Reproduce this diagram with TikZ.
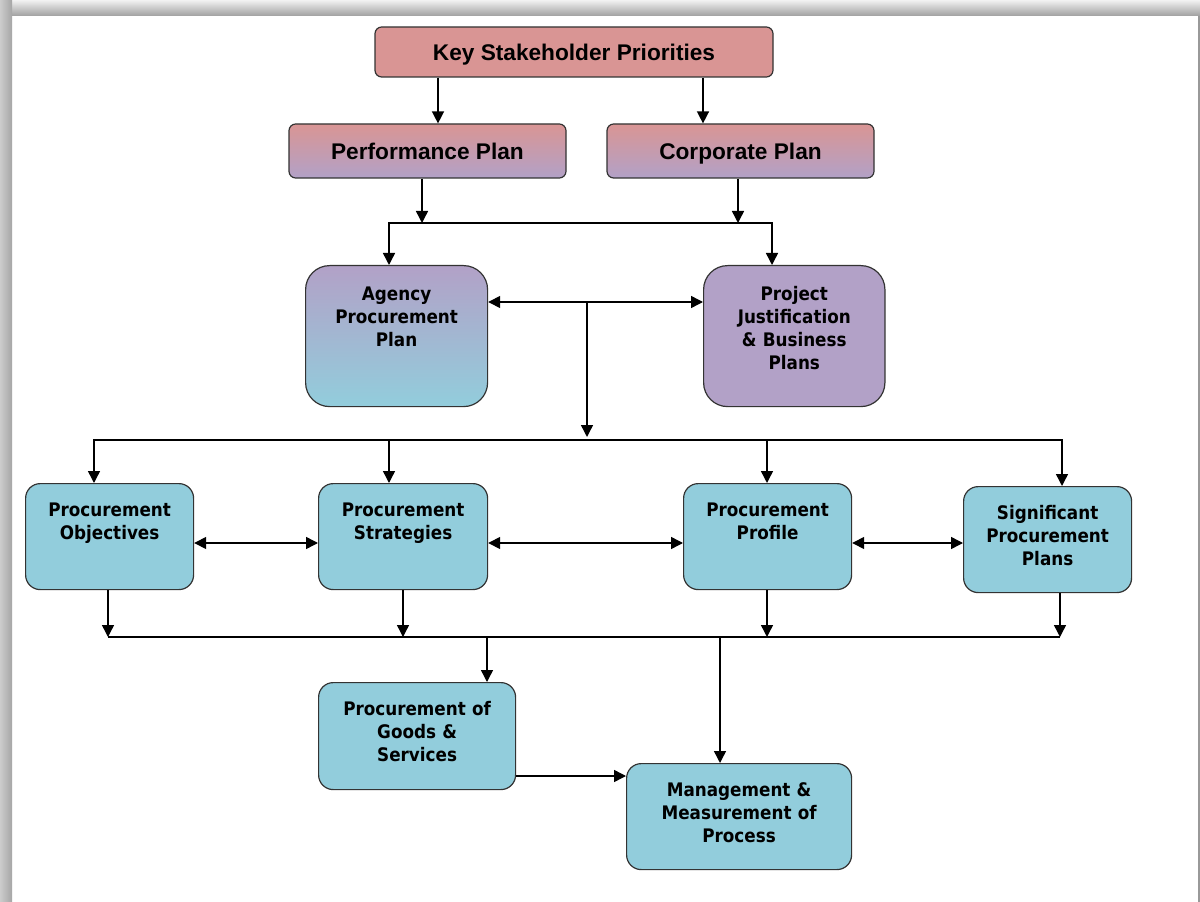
\documentclass[tikz,border=0pt]{standalone}
\usepackage{fontspec}
\setmainfont{DejaVu Sans}[FakeStretch=0.9]
\newfontfamily\titlefont{Liberation Sans}
\usetikzlibrary{arrows.meta}
\definecolor{keypink}{HTML}{D99594}
\definecolor{planlilac}{HTML}{B2A1C7}
\definecolor{procblue}{HTML}{92CDDC}

\begin{document}
\begin{tikzpicture}[x=0.75pt,y=-0.75pt]
        \tikzset{
        top node/.style={draw=black!80,line width=0.9pt,rounded corners=5pt,inner sep=0,
            text height=12.2pt,text depth=0pt,
            font=\titlefont\fontsize{17}{20}\selectfont\bfseries},
        plan node/.style={draw=black!80,line width=0.9pt,rounded corners=18pt,inner sep=0,
            align=center,text height=26.5pt,text depth=79.25pt,anchor=north west,
            font=\fontsize{14}{17.25}\selectfont\bfseries},
        proc node/.style={draw=black!80,line width=0.9pt,rounded corners=11pt,fill=procblue,
            inner sep=0,align=center,text height=25pt,anchor=north west,
            font=\fontsize{14}{17.25}\selectfont\bfseries},
        link/.style={line width=1.1pt,-{Triangle[length=9pt,width=9pt]}},
        both link/.style={line width=1.1pt,{Triangle[length=9pt,width=9pt]}-{Triangle[length=9pt,width=9pt]}}
        }
        \useasboundingbox (0,0) rectangle (1200,902);
        % frame
        \fill[white] (0,0) rectangle (1200,902);
        \shade[top color=gray!10,bottom color=gray!75] (0,0) rectangle (1200,16);
        \shade[left color=gray!40,right color=gray!70] (0,0) rectangle (12,902);
        \draw[gray!80,line width=1.2pt] (1199,16) -- (1199,902);

        \node[top node,fill=keypink,minimum width=298.5pt,minimum height=37.5pt] (ksp) at (574,52) {Key Stakeholder Priorities};
        \node[top node,top color=keypink,bottom color=planlilac,minimum width=207.75pt,minimum height=40.5pt] (perf) at (427.5,151) {Performance Plan};
        \node[top node,top color=keypink,bottom color=planlilac,minimum width=200.25pt,minimum height=40.5pt] (corp) at (740.5,151) {Corporate Plan};

        \node[plan node,top color=planlilac,bottom color=procblue,text width=136.5pt] (app) at (305,265) {Agency\\Procurement\\Plan};
        \node[plan node,fill=planlilac,text width=136pt] (pj) at (703,265) {Project\\Justification\\\& Business\\Plans};

        \node[proc node,text width=126pt,text depth=54.5pt] (obj) at (25,483) {Procurement\\Objectives};
        \node[proc node,text width=126.75pt,text depth=54.5pt] (strat) at (318,483) {Procurement\\Strategies};
        \node[proc node,text width=126pt,text depth=54.5pt] (prof) at (683,483) {Procurement\\Profile};
        \node[proc node,text width=126pt,text depth=54.5pt] (sig) at (963,486) {Significant\\Procurement\\Plans};
        \node[proc node,text width=147.75pt,text depth=55.25pt] (goods) at (318,682) {Procurement of\\Goods \&\\Services};
        \node[proc node,text width=168.75pt,text depth=54.5pt] (mgmt) at (626,763) {Management \&\\Measurement of\\Process};

        % junction points
        \coordinate (ka) at (438,100);
        \coordinate (kb) at (703,100);
        \coordinate (pa) at (422,223);
        \coordinate (pb) at (738,223);
        \coordinate (ql) at (389,223);
        \coordinate (qr) at (772,223);
        \coordinate (mid) at (587,302);
        \coordinate (midb) at (587,437);
        \coordinate (ra) at (94,440);
        \coordinate (rb) at (389,440);
        \coordinate (rc) at (767,440);
        \coordinate (rd) at (1062,440);
        \coordinate (h) at (0,543);
        \coordinate (sa) at (108,637);
        \coordinate (sb) at (403,637);
        \coordinate (sc) at (767,637);
        \coordinate (sd) at (1060,637);
        \coordinate (ta) at (487,637);
        \coordinate (tb) at (720,637);
        \coordinate (u) at (0,776);

        \draw[link] (ksp.south -| ka) -- (perf.north -| ka);
        \draw[link] (ksp.south -| kb) -- (corp.north -| kb);
        \draw[link] (perf.south -| pa) -- (pa);
        \draw[link] (corp.south -| pb) -- (pb);
        \draw[both link] (app.north -| ql) -- (ql) -- (qr) -- (pj.north -| qr);
        \draw[both link] (app.east |- mid) -- (pj.west |- mid);
        \draw[link] (mid) -- (midb);
        \draw[both link] (obj.north -| ra) -- (ra) -- (rd) -- (sig.north -| rd);
        \draw[link] (rb) -- (strat.north -| rb);
        \draw[link] (rc) -- (prof.north -| rc);
        \draw[both link] (obj.east |- h) -- (strat.west |- h);
        \draw[both link] (strat.east |- h) -- (prof.west |- h);
        \draw[both link] (prof.east |- h) -- (sig.west |- h);
        \draw[link] (obj.south -| sa) -- (sa);
        \draw[link] (strat.south -| sb) -- (sb);
        \draw[link] (prof.south -| sc) -- (sc);
        \draw[link] (sig.south -| sd) -- (sd);
        \draw[line width=1.1pt] (sa) -- (sd);
        \draw[link] (ta) -- (goods.north -| ta);
        \draw[link] (tb) -- (mgmt.north -| tb);
        \draw[link] (goods.east |- u) -- (mgmt.west |- u);
\end{tikzpicture}
\end{document}
